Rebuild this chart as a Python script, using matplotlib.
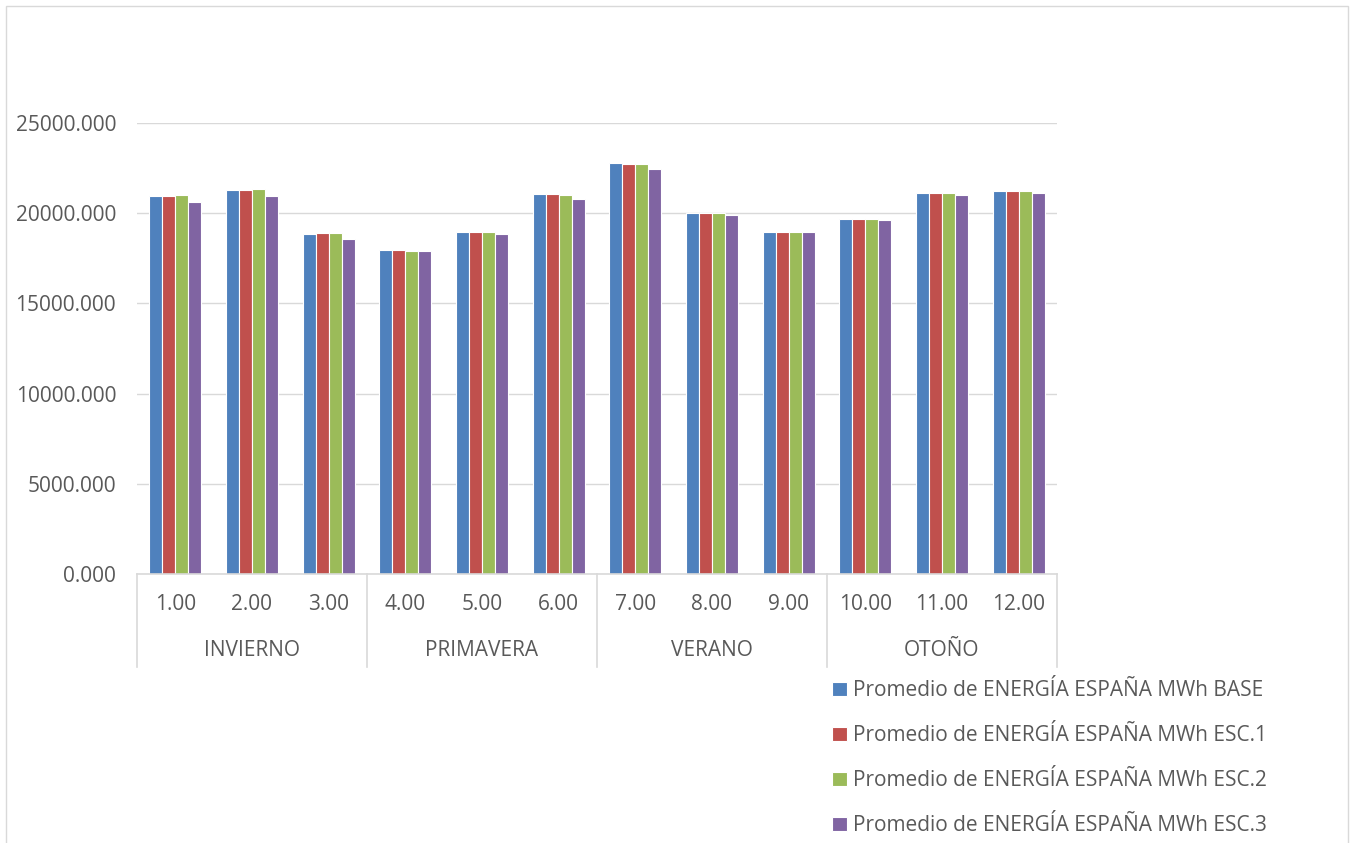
import matplotlib
matplotlib.use("Agg")
import matplotlib.pyplot as plt
from matplotlib.patches import Rectangle
import numpy as np

plt.rcParams["font.family"] = ["Open Sans", "DejaVu Sans"]

months = ["1.00", "2.00", "3.00", "4.00", "5.00", "6.00",
          "7.00", "8.00", "9.00", "10.00", "11.00", "12.00"]
seasons = ["INVIERNO", "PRIMAVERA", "VERANO", "OTOÑO"]
months_per_season = 3

base = [20950, 21270, 18860, 17960, 18940, 21050, 22760, 20010, 18980, 19660, 21120, 21230]
esc1 = [20970, 21290, 18880, 17940, 18960, 21050, 22730, 20010, 18980, 19660, 21120, 21230]
esc2 = [21000, 21320, 18880, 17920, 18960, 21030, 22710, 19990, 18980, 19660, 21120, 21210]
esc3 = [20600, 20940, 18570, 17880, 18860, 20790, 22470, 19880, 18960, 19600, 21010, 21120]

series = [
    ("Promedio de ENERGÍA ESPAÑA MWh BASE", base, "#4F81BD"),
    ("Promedio de ENERGÍA ESPAÑA MWh ESC.1", esc1, "#C0504D"),
    ("Promedio de ENERGÍA ESPAÑA MWh ESC.2", esc2, "#9BBB59"),
    ("Promedio de ENERGÍA ESPAÑA MWh ESC.3", esc3, "#8064A2"),
]

FS = 15
TXT = "#595959"

W, H = 1356, 843
fig = plt.figure(figsize=(W / 100, H / 100), dpi=100)
ax = fig.add_axes([137 / W, 1 - 574 / H, 920 / W, 451 / H])

x = np.arange(len(months))
bw = 0.17
for i, (name, vals, color) in enumerate(series):
    ax.bar(x + (i - 1.5) * bw, vals, bw, color=color, edgecolor="white",
           linewidth=0.8, label=name, zorder=2)

ax.set_xlim(-0.5, len(months) - 0.5)
ax.set_ylim(0, 25000)
ax.set_yticks(np.arange(0, 25001, 5000))
ax.set_yticklabels([f"{v:.3f}" for v in np.arange(0, 25001, 5000)])
ax.tick_params(axis="y", length=0, pad=15, labelsize=FS, labelcolor=TXT)
ax.set_xticks([])
ax.grid(axis="y", color="#D9D9D9", linewidth=1, zorder=0)
for s in ["top", "right", "left"]:
    ax.spines[s].set_visible(False)
ax.spines["bottom"].set_color("#D9D9D9")
ax.spines["bottom"].set_linewidth(1.2)

# two-level category axis
trans = ax.get_xaxis_transform()
for k in range(len(seasons) + 1):
    xb = k * months_per_season - 0.5
    ax.plot([xb, xb], [0, -93 / 451], color="#D9D9D9", lw=1.2,
            transform=trans, clip_on=False)
for xi, lab in zip(x, months):
    ax.text(xi, -31 / 451, lab, transform=trans, ha="center", va="center",
            fontsize=FS, color=TXT)
for k, lab in enumerate(seasons):
    xc = k * months_per_season + (months_per_season - 1) / 2
    ax.text(xc, -77 / 451, lab, transform=trans, ha="center", va="center",
            fontsize=FS, color=TXT)

fig.legend(loc="upper left", bbox_to_anchor=(824 / W, 1 - 672 / H),
           frameon=False, fontsize=FS, labelcolor=TXT,
           handlelength=0.7, handleheight=0.7, handletextpad=0.3,
           labelspacing=1.15, borderaxespad=0)

fig.patches.append(Rectangle((6 / W, -0.05), 1342 / W, 1.05 - 6 / H,
                             transform=fig.transFigure, fill=False,
                             edgecolor="#D9D9D9", linewidth=1))

fig.savefig("out.png", dpi=100)
